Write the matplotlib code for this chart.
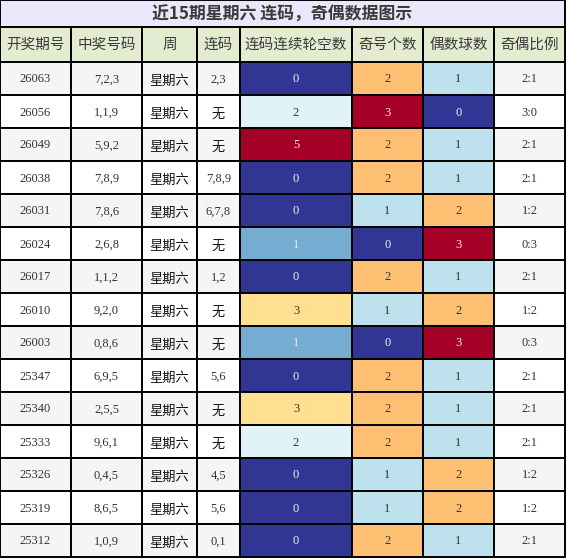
import matplotlib
matplotlib.use('Agg')
import matplotlib.pyplot as plt
from matplotlib.patches import Rectangle
from matplotlib.colors import Normalize
import numpy as np

# 数据
title = '近15期星期六 连码，奇偶数据图示'
headers = ['开奖期号', '中奖号码', '周', '连码', '连码连续轮空数', '奇号个数', '偶数球数', '奇偶比例']
periods = ['26063', '26056', '26049', '26038', '26031', '26024', '26017', '26010',
           '26003', '25347', '25340', '25333', '25326', '25319', '25312']
numbers = ['7,2,3', '1,1,9', '5,9,2', '7,8,9', '7,8,6', '2,6,8', '1,1,2', '9,2,0',
           '0,8,6', '6,9,5', '2,5,5', '9,6,1', '0,4,5', '8,6,5', '1,0,9']
weekday = ['星期六'] * 15
lianma = ['2,3', '无', '无', '7,8,9', '6,7,8', '无', '1,2', '无',
          '无', '5,6', '无', '无', '4,5', '5,6', '0,1']
gap = [0, 2, 5, 0, 0, 1, 0, 3, 1, 0, 3, 2, 0, 0, 0]
odd_cnt = [2, 3, 2, 2, 1, 0, 2, 1, 0, 2, 2, 2, 1, 1, 2]
even_cnt = [1, 0, 1, 1, 2, 3, 1, 2, 3, 1, 1, 1, 2, 2, 1]
ratio = ['2:1', '3:0', '2:1', '2:1', '1:2', '0:3', '2:1', '1:2',
         '0:3', '2:1', '2:1', '2:1', '1:2', '1:2', '2:1']

# 布局 (像素)
W, H = 566, 558
col_edges = [0, 71, 142, 197, 240, 352, 423, 494, 565]
title_h = 27
head_h = 35
row_h = 33

cmap = plt.get_cmap('RdYlBu_r')
cjk = 'Noto Sans CJK SC'
body_font = ['Liberation Serif', cjk]

fig = plt.figure(figsize=(W / 100, H / 100), dpi=100)
ax = fig.add_axes([0, 0, 1, 1])
ax.set_xlim(0, W)
ax.set_ylim(H, 0)
ax.axis('off')

lw = 1.4

# 标题
ax.add_patch(Rectangle((0, 0), col_edges[-1], title_h, facecolor='#e8e8fa',
                       edgecolor='black', lw=lw))
ax.text(col_edges[-1] / 2, title_h / 2 + 1, title, ha='center', va='center',
        fontsize=12.2, fontweight='bold', color='#3a3a3a', family=[cjk])

# 表头
y0 = title_h
for i, h in enumerate(headers):
    x0, x1 = col_edges[i], col_edges[i + 1]
    ax.add_patch(Rectangle((x0, y0), x1 - x0, head_h, facecolor='#e3ecd0',
                           edgecolor='black', lw=lw))
    ax.text((x0 + x1) / 2, y0 + head_h / 2, h, ha='center', va='center',
            fontsize=10.5, color='#3a3a3a', family=[cjk])

# 热力列
heat_cols = {4: gap, 5: odd_cnt, 6: even_cnt}
norms = {k: Normalize(min(v), max(v)) for k, v in heat_cols.items()}
plain_cols = [periods, numbers, weekday, lianma]


def lum(c):
    return 0.299 * c[0] + 0.587 * c[1] + 0.114 * c[2]


for r in range(len(periods)):
    y = title_h + head_h + r * row_h
    base = '#f5f5f5' if r % 2 == 0 else 'white'
    for c in range(8):
        x0, x1 = col_edges[c], col_edges[c + 1]
        txt_color = '#333333'
        if c in heat_cols:
            val = heat_cols[c][r]
            fc = cmap(norms[c](val))
            txt = str(val)
            if lum(fc) < 0.7:
                txt_color = '#eeeeee'
        else:
            fc = base
            txt = ratio[r] if c == 7 else plain_cols[c][r]
        ax.add_patch(Rectangle((x0, y), x1 - x0, row_h, facecolor=fc,
                               edgecolor='black', lw=lw))
        if txt in ('星期六', '无'):
            ax.text((x0 + x1) / 2, y + row_h / 2 + 2.5, txt, ha='center', va='center',
                    fontsize=9.5, color='#111111', family=[cjk])
        else:
            ax.text((x0 + x1) / 2, y + row_h / 2 + 1, txt, ha='center', va='center',
                    fontsize=9, color=txt_color, family=body_font)

fig.savefig('out.png', dpi=100)
